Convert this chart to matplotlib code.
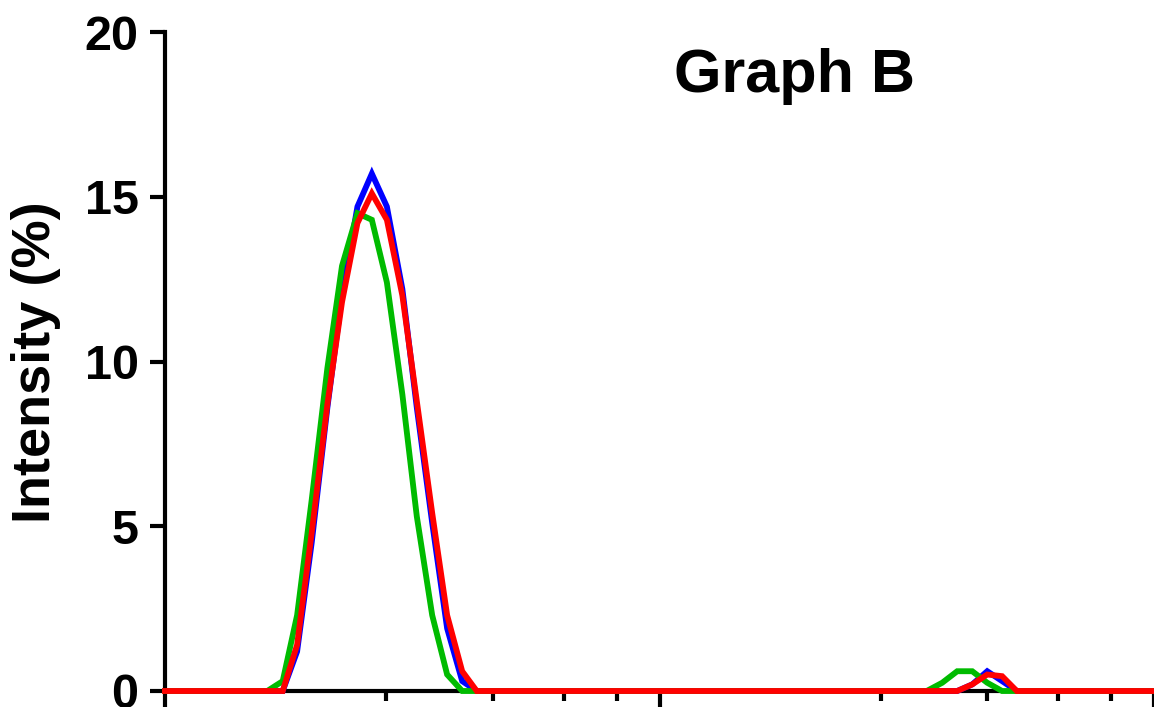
import matplotlib
matplotlib.use("Agg")
import matplotlib.pyplot as plt
from matplotlib.ticker import FixedLocator, NullFormatter

plt.rcParams['font.family'] = ['Liberation Sans', 'DejaVu Sans']
plt.rcParams['font.weight'] = 'bold'

# size bins (nm) and intensity (%) per sample
size_nm = [10, 16.1, 17.3, 18.5, 19.8, 21.3, 22.8, 24.5, 26.2, 28.1, 30.2, 32.3,
           34.7, 37.2, 39.9, 42.7, 347, 373, 400, 429, 460, 493, 528, 1000]
blue_int = [0, 0, 0, 1.2, 4.5, 8.6, 12.0, 14.7, 15.7, 14.7, 12.2, 8.6,
            5.1, 1.9, 0.3, 0, 0, 0, 0, 0.2, 0.6, 0.3, 0, 0]
green_int = [0, 0, 0.3, 2.3, 5.8, 9.8, 12.9, 14.5, 14.3, 12.4, 9.0, 5.3,
             2.3, 0.5, 0, 0, 0, 0.25, 0.6, 0.6, 0.25, 0, 0, 0]
red_int = [0, 0, 0, 1.4, 4.8, 8.7, 11.8, 14.2, 15.1, 14.3, 12.0, 8.8,
           5.4, 2.3, 0.6, 0, 0, 0, 0, 0.2, 0.5, 0.45, 0, 0]

y_ticks = [0, 5, 10, 15, 20]
x_major = [10, 100, 1000]
x_minor = [28, 46, 64, 82, 280, 460, 640, 820]

fig = plt.figure(figsize=(11.54, 7.07), dpi=100)
ax = fig.add_axes([165 / 1154, 16 / 707, 1 - 165 / 1154, 659 / 707])

for vals, col in [(blue_int, '#0000FF'), (green_int, '#00BB00'), (red_int, '#FF0000')]:
    ax.plot(size_nm, vals, color=col, linewidth=4.2, clip_on=False, zorder=3,
            solid_joinstyle='miter')

ax.set_xscale('log')
ax.set_xlim(10, 1000)
ax.set_ylim(0, 20)

ax.xaxis.set_major_locator(FixedLocator(x_major))
ax.xaxis.set_minor_locator(FixedLocator(x_minor))
ax.xaxis.set_major_formatter(NullFormatter())
ax.xaxis.set_minor_formatter(NullFormatter())
ax.set_yticks(y_ticks)

for s in ['top', 'right']:
    ax.spines[s].set_visible(False)
for s in ['left', 'bottom']:
    ax.spines[s].set_linewidth(3)
    ax.spines[s].set_zorder(2)

ax.tick_params(axis='y', which='major', direction='out', length=11, width=3,
               pad=8, labelsize=35)
ax.tick_params(axis='x', which='major', direction='out', length=14, width=3)
ax.tick_params(axis='x', which='minor', direction='out', length=7.5, width=3)
for lab in ax.get_yticklabels():
    lab.set_fontweight('bold')

fig.text(36 / 1154, 1 - 362 / 707, 'Intensity (%)', rotation=90,
         ha='center', va='center', fontsize=39, fontweight='bold')
fig.text(795 / 1154, 1 - 92 / 707, 'Graph B', ha='center', va='baseline',
         fontsize=44, fontweight='bold')

fig.savefig('out.png', dpi=100)
